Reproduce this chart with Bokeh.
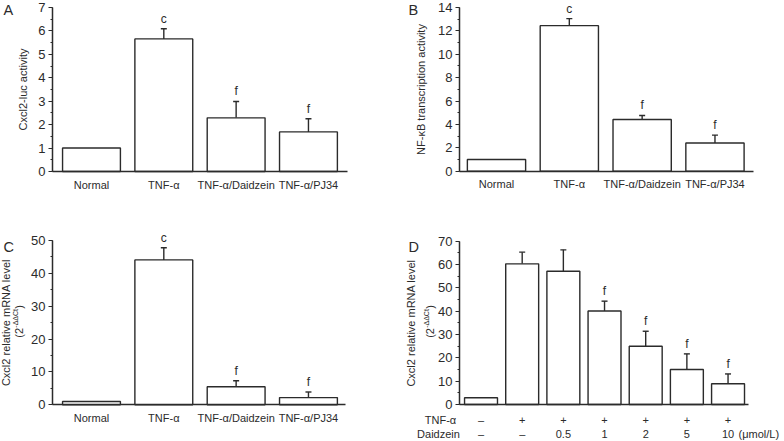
import math
from bokeh.plotting import figure
from bokeh.models import (ColumnDataSource, Whisker, TeeHead, LabelSet, Label,
                          FixedTicker, SingleIntervalTicker, Range1d)
from bokeh.layouts import column, row
from bokeh.core.properties import value
from bokeh.embed import file_html
from bokeh.resources import INLINE

# ---------------- data ----------------
groups_abc = ["Normal", "TNF-α", "TNF-α/Daidzein", "TNF-α/PJ34"]

a_values = [1.0, 5.66, 2.29, 1.69]
a_errors = [0.0, 0.43, 0.70, 0.56]
a_marks = ["", "c", "f", "f"]

b_values = [1.0, 12.45, 4.42, 2.41]
b_errors = [0.0, 0.60, 0.35, 0.68]
b_marks = ["", "c", "f", "f"]

c_values = [1.0, 44.1, 5.5, 2.2]
c_errors = [0.0, 3.7, 1.8, 1.7]
c_marks = ["", "c", "f", "f"]

d_tnf = ["–", "+", "+", "+", "+", "+", "+"]
d_daidzein = ["–", "–", "0.5", "1", "2", "5", "10"]
d_values = [2.9, 60.3, 57.1, 40.1, 25.0, 15.0, 8.9]
d_errors = [0.0, 5.0, 9.2, 4.2, 6.4, 6.7, 4.2]
d_marks = ["", "", "", "f", "f", "f", "f"]

FONT = "Liberation Sans"
INK = "#2b2b2b"


def panel(values, errors, marks, y_top, y_step, xr, yr, x_axis_span, w, h,
          ylabel, ystandoff, tick_labels):
    n = len(values)
    xs = list(range(1, n + 1))
    p = figure(width=w, height=h, output_backend="svg", toolbar_location=None,
               title=None, x_range=Range1d(*xr), y_range=Range1d(*yr),
               min_border=0)
    p.outline_line_color = None
    p.grid.visible = False
    p.background_fill_color = "white"
    p.border_fill_color = "white"

    upper = [v + e for v, e in zip(values, errors)]
    src = ColumnDataSource(dict(x=xs, top=values, upper=upper, mark=marks))
    p.vbar(x="x", top="top", bottom=0, width=0.8, source=src,
           fill_color="white", line_color=INK, line_width=1.4)

    keep = [i for i, e in enumerate(errors) if e > 0]
    esrc = ColumnDataSource(dict(x=[xs[i] for i in keep],
                                 top=[values[i] for i in keep],
                                 upper=[upper[i] for i in keep]))
    p.add_layout(Whisker(base="x", lower="top", upper="upper", source=esrc,
                         dimension="height", lower_head=None,
                         upper_head=TeeHead(size=6, line_color=INK, line_width=1.4),
                         line_color=INK, line_width=1.4))
    p.add_layout(LabelSet(x="x", y="upper", text="mark", source=src,
                          text_align="center", text_baseline="bottom",
                          y_offset=3, text_font=value(FONT),
                          text_font_size="12px", text_color=INK))

    yax = p.yaxis[0]
    yax.fixed_location = x_axis_span[0]
    yax.bounds = (0, y_top)
    yax.ticker = SingleIntervalTicker(interval=y_step, num_minor_ticks=2)
    yax.axis_label = ylabel
    yax.axis_label_text_font = FONT
    yax.axis_label_text_font_style = "normal"
    yax.axis_label_text_font_size = "11px"
    yax.axis_label_text_color = INK
    yax.axis_label_standoff = ystandoff
    yax.major_label_text_font = FONT
    yax.major_label_text_font_size = "13px"
    yax.major_label_text_color = INK
    yax.major_label_standoff = 3
    yax.major_tick_in = 0
    yax.major_tick_out = 4
    yax.minor_tick_in = 0
    yax.minor_tick_out = 2
    yax.axis_line_width = 1.5
    yax.axis_line_color = INK
    yax.major_tick_line_color = INK
    yax.minor_tick_line_color = INK
    yax.major_tick_line_width = 1.2
    yax.minor_tick_line_width = 1.2

    xax = p.xaxis[0]
    xax.fixed_location = 0
    xax.bounds = x_axis_span
    if tick_labels:
        xax.ticker = FixedTicker(ticks=xs)
        xax.major_label_overrides = {x: t for x, t in zip(xs, tick_labels)}
    else:
        xax.ticker = FixedTicker(ticks=[])
    xax.major_label_text_font = FONT
    xax.major_label_text_font_size = "11px"
    xax.major_label_text_color = INK
    xax.major_label_standoff = 7
    xax.major_tick_in = 0
    xax.major_tick_out = 0
    xax.minor_tick_in = 0
    xax.minor_tick_out = 0
    xax.axis_line_width = 1.5
    xax.axis_line_color = INK
    return p


def screen_label(p, text, sx, sy, size="11px", align="left", baseline="middle",
                 angle=0.0):
    p.add_layout(Label(x=sx, y=sy, x_units="screen", y_units="screen", text=text,
                       angle=angle, text_font=FONT, text_font_size=size,
                       text_color=INK, text_align=align, text_baseline=baseline))


def second_line(p, sx, y_mid, color=INK):
    # "(2^-ΔΔCt)" written upward, centred on the axis mid-height
    half = math.pi / 2
    pieces = (("(2", 0, -15, "11px"), ("-ΔΔCt", -3, -5, "7px"), (")", 0, 14, "11px"))
    for text, dx, dy, size in pieces:
        p.add_layout(Label(x=sx + dx, y=y_mid, x_units="screen", y_units="data",
                           y_offset=dy, text=text, angle=half, text_font=FONT,
                           text_font_size=size, text_color=color,
                           text_align="left", text_baseline="middle"))


W1, W2 = 392, 391
H1, H2 = 212, 228

pA = panel(a_values, a_errors, a_marks, 7, 1, (-0.258, 5.162), (-1.75, 7.299),
           (0.461, 4.539), W1, H1, "Cxcl2-luc activity", 6, groups_abc)
screen_label(pA, "A", 3, 211, "14.5px", baseline="top")

pB = panel(b_values, b_errors, b_marks, 14, 2, (-0.428, 4.941), (-3.53, 14.6),
           (0.492, 4.529), W2, H1, "NF-κB transcription activity", 8, groups_abc)
screen_label(pB, "B", 16, 211, "14.5px", baseline="top")

pC = panel(c_values, c_errors, c_marks, 50, 10, (-0.258, 5.162), (-10.86, 58.52),
           (0.461, 4.512), W1, H2, "Cxcl2 relative mRNA level", 16, groups_abc)
screen_label(pC, "C", 3, 202, "14.5px", baseline="top")
second_line(pC, 18, 25)

pD = panel(d_values, d_errors, d_marks, 70, 10, (-1.150, 8.347), (-15.43, 82.3),
           (0.478, 7.497), W2, H2, "Cxcl2 relative mRNA level", 18, None)
screen_label(pD, "D", 16, 202, "14.5px", baseline="top")
second_line(pD, 37, 35)

tsrc = ColumnDataSource(dict(x=list(range(1, len(d_values) + 1)),
                             tnf=d_tnf, dai=d_daidzein))
for field, yy in (("tnf", 21), ("dai", 7)):
    pD.add_layout(LabelSet(x="x", y=yy, y_units="screen", text=field, source=tsrc,
                           text_align="center", text_baseline="middle",
                           text_font=value(FONT), text_font_size="11px",
                           text_color=INK))
screen_label(pD, "TNF-α", 48, 21, "11px", align="center")
screen_label(pD, "Daidzein", 46, 7, "11px", align="center")
screen_label(pD, "(μmol/L)", 346, 7, "11px", align="left")

layout = column(row(pA, pB), row(pC, pD))
open("out.html", "w").write(file_html(layout, INLINE))
